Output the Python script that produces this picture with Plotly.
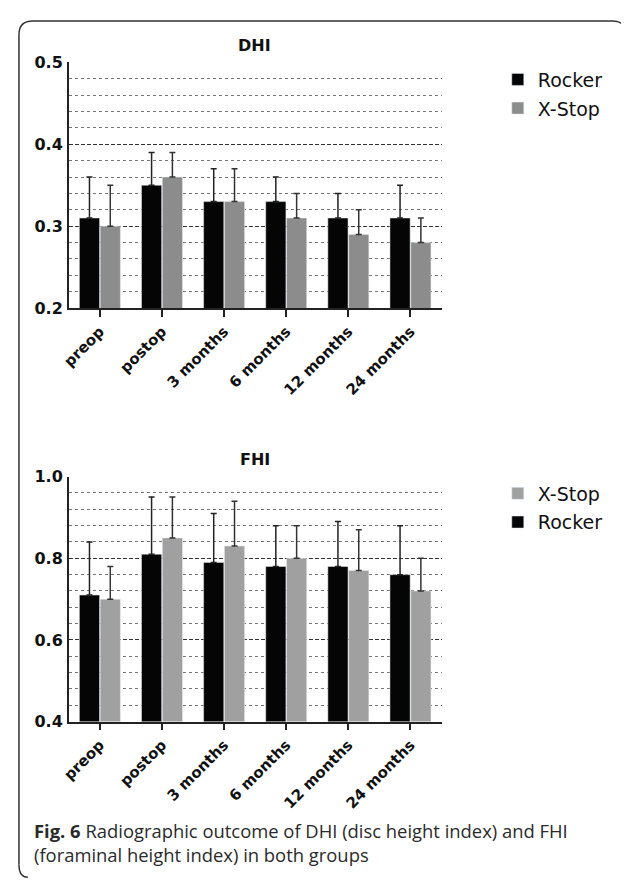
import plotly.graph_objects as go

categories = ["preop", "postop", "3 months", "6 months", "12 months", "24 months"]

# DHI (disc height index)
dhi_rocker = [0.31, 0.35, 0.33, 0.33, 0.31, 0.31]
dhi_rocker_upper = [0.36, 0.39, 0.37, 0.36, 0.34, 0.35]
dhi_xstop = [0.30, 0.36, 0.33, 0.31, 0.29, 0.28]
dhi_xstop_upper = [0.35, 0.39, 0.37, 0.34, 0.32, 0.31]

# FHI (foraminal height index)
fhi_rocker = [0.71, 0.81, 0.79, 0.78, 0.78, 0.76]
fhi_rocker_upper = [0.84, 0.95, 0.91, 0.88, 0.89, 0.88]
fhi_xstop = [0.70, 0.85, 0.83, 0.80, 0.77, 0.72]
fhi_xstop_upper = [0.78, 0.95, 0.94, 0.88, 0.87, 0.80]

W, H = 629, 889
CHART_FONT = "DejaVu Sans, Liberation Sans, Arial, sans-serif"
CAP_FONT = "Open Sans, Noto Sans, sans-serif"


def px(x):
    return x / W


def py(y):
    return 1 - y / H


def err(vals, upper, color):
    return dict(type="data", symmetric=False,
                array=[round(u - v, 4) for v, u in zip(vals, upper)],
                arrayminus=[0] * len(vals),
                color=color, thickness=1.5, width=3)


fig = go.Figure()

fig.add_trace(go.Bar(x=categories, y=dhi_rocker, name="Rocker", marker_color="#050505",
                     error_y=err(dhi_rocker, dhi_rocker_upper, "#222222"),
                     xaxis="x", yaxis="y", legend="legend", legendgroup="r1"))
fig.add_trace(go.Bar(x=categories, y=dhi_xstop, name="X-Stop", marker_color="#8c8c8c",
                     error_y=err(dhi_xstop, dhi_xstop_upper, "#333333"),
                     xaxis="x", yaxis="y", legend="legend", legendgroup="x1"))
fig.add_trace(go.Bar(x=categories, y=fhi_rocker, name="Rocker", marker_color="#050505",
                     error_y=err(fhi_rocker, fhi_rocker_upper, "#222222"),
                     xaxis="x2", yaxis="y2", legend="legend2", legendgroup="r2", legendrank=2))
fig.add_trace(go.Bar(x=categories, y=fhi_xstop, name="X-Stop", marker_color="#a0a0a0",
                     error_y=err(fhi_xstop, fhi_xstop_upper, "#333333"),
                     xaxis="x2", yaxis="y2", legend="legend2", legendgroup="x2", legendrank=1))

# the page has an 8px body margin; coordinates below are paper pixels
xdom = [px(53.5), px(431)]
ydom1 = [py(297.5), py(46.3)]
ydom2 = [py(720), py(469.7)]


def xax(anchor):
    return dict(domain=xdom, anchor=anchor, range=[-0.5, 5.5], showline=True,
                linewidth=1.6, linecolor="#222222", ticks="outside", ticklen=7,
                tickwidth=1.5, tickcolor="#222222", tickangle=-45, showgrid=False,
                tickfont=dict(family=CHART_FONT, size=15, weight="bold", color="#111111"),
                fixedrange=True)


def yax(anchor, dom, rng, dtick, minor_dtick):
    return dict(domain=dom, anchor=anchor, range=rng, dtick=dtick, tick0=rng[0],
                tickformat=".1f", showline=True, linewidth=1.6, linecolor="#222222",
                ticks="", ticklabelstandoff=1,
                showgrid=True, gridcolor="#333333", gridwidth=1, griddash="4px,2px",
                zeroline=False,
                minor=dict(dtick=minor_dtick, tick0=rng[0], showgrid=True,
                           gridcolor="#777777", gridwidth=1, griddash="dot", ticks=""),
                tickfont=dict(family=CHART_FONT, size=16, weight="bold", color="#111111"),
                fixedrange=True)


legend_common = dict(font=dict(family=CHART_FONT, size=19, color="#111111"),
                     bgcolor="rgba(0,0,0,0)", traceorder="grouped", tracegroupgap=1,
                     xanchor="left", yanchor="top", itemclick=False)

caption = ("<b>Fig. 6</b> Radiographic outcome of DHI (disc height index) and FHI"
           "<br>(foraminal height index) in both groups")

fig.update_layout(
    width=W, height=H,
    margin=dict(l=0, r=0, t=0, b=0),
    paper_bgcolor="white", plot_bgcolor="white",
    barmode="group", bargap=0.33, bargroupgap=0.03,
    xaxis=xax("y"),
    yaxis=yax("x", ydom1, [0.2, 0.5], 0.1, 0.02),
    xaxis2=xax("y2"),
    yaxis2=yax("x2", ydom2, [0.4, 1.0], 0.2, 0.04),
    legend=dict(x=px(488), y=py(44.5), **legend_common),
    legend2=dict(x=px(488), y=py(467.5), **legend_common),
    annotations=[
        dict(text="<b>DHI</b>", x=px(242), y=py(29), xref="paper", yref="paper",
             yanchor="middle", showarrow=False,
             font=dict(family=CHART_FONT, size=16, color="#111111")),
        dict(text="<b>FHI</b>", x=px(242), y=py(452), xref="paper", yref="paper",
             yanchor="middle", showarrow=False,
             font=dict(family=CHART_FONT, size=16, color="#111111")),
        dict(text=caption, x=px(16), y=py(843.5), xref="paper", yref="paper",
             xanchor="left", yanchor="middle", align="left", showarrow=False,
             font=dict(family=CAP_FONT, size=18.4, color="#2a2a2a")),
    ],
    shapes=[
        dict(type="path", xref="paper", yref="paper",
             path=(f"M {px(3)},{py(866)} L {px(3)},{py(18)} Q {px(3)},{py(4)} {px(17)},{py(4)} "
                   f"L {px(604)},{py(4)} Q {px(617)},{py(4)} {px(617)},{py(16)}"),
             line=dict(color="#333333", width=1.5)),
        dict(type="path", xref="paper", yref="paper",
             path=f"M {px(3)},{py(866)} Q {px(3)},{py(879)} {px(12)},{py(879)}",
             line=dict(color="#333333", width=1.5)),
    ],
)

fig.write_html("out.html")
